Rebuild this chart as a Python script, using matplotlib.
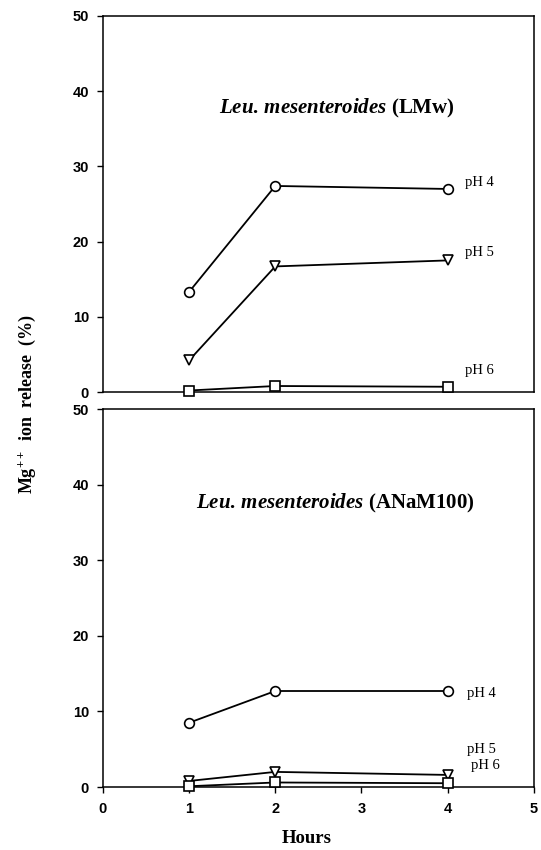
import matplotlib
matplotlib.use("Agg")
import matplotlib.pyplot as plt

plt.rcParams['mathtext.fontset'] = 'custom'
plt.rcParams['mathtext.rm'] = 'Liberation Serif:bold'
plt.rcParams['mathtext.it'] = 'Liberation Serif:italic:bold'
plt.rcParams['mathtext.bf'] = 'Liberation Serif:bold'

hours = [1, 2, 4]
# Top panel: Leu. mesenteroides (LMw)
lmw_ph4 = [13.3, 27.4, 27.0]
lmw_ph5 = [4.2, 16.7, 17.5]
lmw_ph6 = [0.2, 0.8, 0.7]
# Bottom panel: Leu. mesenteroides (ANaM100)
anam_ph4 = [8.5, 12.7, 12.7]
anam_ph5 = [0.8, 2.0, 1.6]
anam_ph6 = [0.1, 0.6, 0.5]

series_labels = ['pH 4', 'pH 5', 'pH 6']
markers = ['o', 'v', 's']
yticks = [0, 10, 20, 30, 40, 50]
xticks = [0, 1, 2, 3, 4, 5]

fig = plt.figure(figsize=(5.41, 8.5), dpi=100)
ax1 = fig.add_axes([0.190, 0.5388, 0.797, 0.4424])
ax2 = fig.add_axes([0.190, 0.0741, 0.797, 0.4447])

tick_font = dict(family='Liberation Sans', size=10.5, weight='bold')

def style(ax, show_x):
    ax.set_xlim(0, 5)
    ax.set_ylim(0, 50)
    ax.set_yticks(yticks)
    ax.set_yticklabels([str(t) for t in yticks], **tick_font)
    ax.set_xticks(xticks)
    if show_x:
        ax.set_xticklabels([str(t) for t in xticks], **tick_font)
        ax.tick_params(axis='x', direction='out', length=4, width=1, pad=7)
    else:
        ax.tick_params(axis='x', length=0, labelbottom=False)
    ax.tick_params(axis='y', direction='out', length=4, width=1, pad=6)
    for s in ax.spines.values():
        s.set_linewidth(1.1)
        s.set_color('black')

def draw(ax, data, label_pos, title_italic, title_suffix, title_x, title_y):
    for vals, m in zip(data, markers):
        ax.plot(hours, vals, color='black', lw=1.3, marker=m, ms=7,
                mfc='white', mec='black', mew=1.2, clip_on=False, zorder=3)
    for lab, (lx, ly) in zip(series_labels, label_pos):
        ax.text(lx, ly, lab, family='Liberation Serif', fontsize=10.5,
                ha='left', va='center')
    it = title_italic.replace(' ', r'\,')
    title = r'$\mathit{%s}\ \mathrm{%s}$' % (it, title_suffix)
    ax.text(title_x, title_y, title,
            family='Liberation Serif', fontweight='bold', fontsize=15,
            ha='center', va='baseline')

draw(ax1, [lmw_ph4, lmw_ph5, lmw_ph6],
     [(4.2, 27.8), (4.2, 18.6), (4.2, 2.9)],
     'Leu. mesenteroides', '(LMw)', 2.71, 37.0)
draw(ax2, [anam_ph4, anam_ph5, anam_ph6],
     [(4.22, 12.4), (4.22, 4.9), (4.27, 2.9)],
     'Leu. mesenteroides', '(ANaM100)', 2.70, 36.9)

style(ax1, False)
style(ax2, True)

fig.text(0.567, 0.008, 'Hours', family='Liberation Serif', fontweight='bold',
         fontsize=13.5, ha='center', va='baseline')
fig.text(0.05, 0.525, r'Mg$^{++}$  ion  release  (%)', rotation=90,
         family='Liberation Serif', fontweight='bold', fontsize=13,
         ha='center', va='center')

fig.savefig('out.png', dpi=100)
